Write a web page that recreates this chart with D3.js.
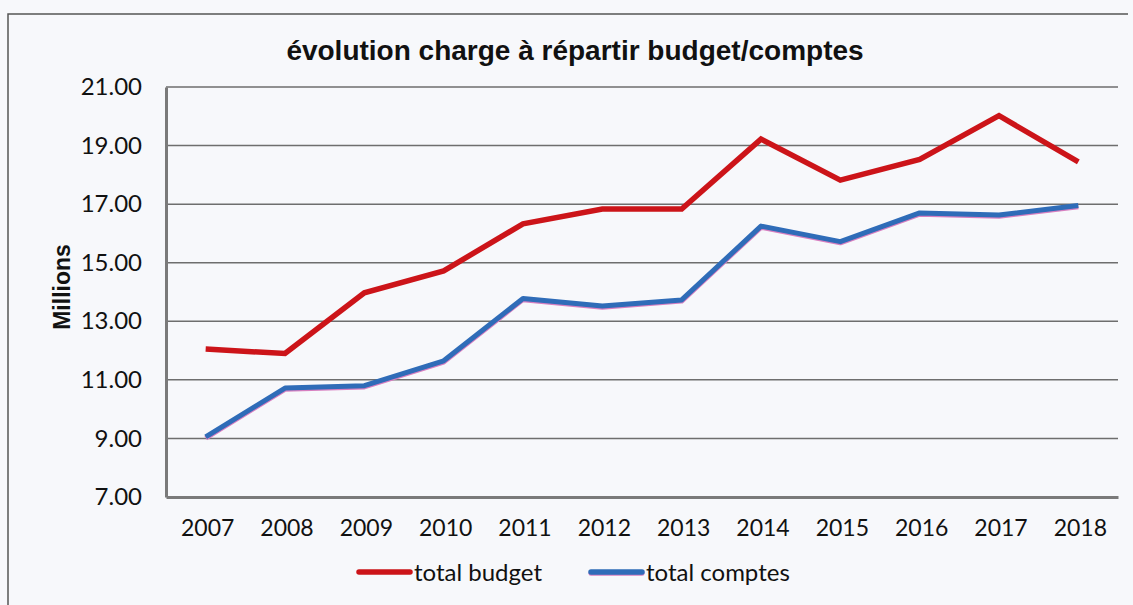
<!DOCTYPE html>
<html>
<head>
<meta charset="utf-8">
<script src="https://cdn.jsdelivr.net/npm/d3@7"></script>
<style>
  body { margin: 0; background: #f7f8fb; }
  svg { display: block; }
</style>
</head>
<body>
<svg id="chart" width="1133" height="605"></svg>
<script>
var years = ['2007','2008','2009','2010','2011','2012','2013','2014','2015','2016','2017','2018'];
var totalBudget = [12.05, 11.9, 13.97, 14.72, 16.33, 16.83, 16.83, 19.22, 17.82, 18.53, 20.02, 18.44];
var totalComptes = [9.05, 10.72, 10.8, 11.65, 13.78, 13.52, 13.73, 16.25, 15.72, 16.7, 16.63, 16.95];
var yTicks = [7, 9, 11, 13, 15, 17, 19, 21];

var svg = d3.select('#chart');

// plot box (window.top is reserved, so use plot* names)
var plotLeft = 166, plotRight = 1118, plotTop = 87, plotBottom = 497;

// frame of the scanned chart
svg.append('path')
  .attr('d', 'M8,605 L8,14 L1128,14')
  .attr('fill', 'none')
  .attr('stroke', '#555')
  .attr('stroke-width', 1.5);

var x = d3.scaleBand().domain(years).range([plotLeft, plotRight]);
var y = d3.scaleLinear().domain([7, 21]).range([plotBottom, plotTop]);

// gridlines
svg.append('g')
  .selectAll('line')
  .data(yTicks.slice(1))
  .enter().append('line')
    .attr('x1', plotLeft).attr('x2', plotRight)
    .attr('y1', function(d) { return y(d); })
    .attr('y2', function(d) { return y(d); })
    .attr('stroke', '#6e6e6e')
    .attr('stroke-width', 1.5);

// y axis
var yAxis = svg.append('g')
  .attr('transform', 'translate(' + plotLeft + ',0)')
  .call(d3.axisLeft(y).tickValues(yTicks).tickFormat(d3.format('.2f')).tickSize(0).tickPadding(24));
yAxis.select('.domain').attr('stroke', '#7a7a7a').attr('stroke-width', 3);
yAxis.selectAll('text')
  .attr('font-family', 'Lato, "Open Sans", sans-serif')
  .attr('font-size', 24)
  .attr('fill', '#111');

// x axis
var xAxis = svg.append('g')
  .attr('transform', 'translate(0,' + plotBottom + ')')
  .call(d3.axisBottom(x).tickSize(0).tickPadding(23));
xAxis.select('.domain').attr('stroke', '#7a7a7a').attr('stroke-width', 3);
xAxis.selectAll('text')
  .attr('font-family', 'Lato, "Open Sans", sans-serif')
  .attr('font-size', 23)
  .attr('dx', 2)
  .attr('fill', '#111');

var line = function(vals) {
  return d3.line()
    .x(function(d, i) { return x(years[i]) + x.bandwidth() / 2; })
    .y(function(d) { return y(d); })(vals);
};

// total comptes: pink edge under blue
svg.append('path')
  .attr('d', line(totalComptes))
  .attr('transform', 'translate(0,1.2)')
  .attr('fill', 'none')
  .attr('stroke', '#d77fc0')
  .attr('stroke-width', 5)
  .attr('stroke-linejoin', 'round');
svg.append('path')
  .attr('d', line(totalComptes))
  .attr('fill', 'none')
  .attr('stroke', '#2f6cb8')
  .attr('stroke-width', 5)
  .attr('stroke-linejoin', 'round');

svg.append('path')
  .attr('d', line(totalBudget))
  .attr('fill', 'none')
  .attr('stroke', '#cc1419')
  .attr('stroke-width', 5.5)
  .attr('stroke-linejoin', 'miter');

// title
svg.append('text')
  .attr('x', 575).attr('y', 60)
  .attr('text-anchor', 'middle')
  .attr('font-family', '"Liberation Sans", Arial, sans-serif')
  .attr('font-weight', 'bold')
  .attr('font-size', 28)
  .attr('fill', '#111')
  .text('évolution charge à répartir budget/comptes');

// y title
svg.append('text')
  .attr('transform', 'translate(70,287) rotate(-90)')
  .attr('text-anchor', 'middle')
  .attr('font-family', '"Liberation Sans", Arial, sans-serif')
  .attr('font-weight', 'bold')
  .attr('font-size', 23)
  .attr('fill', '#111')
  .text('Millions');

// legend
var legend = [
  {name: 'total budget', color: '#cc1419', x: 357},
  {name: 'total comptes', color: '#2f6cb8', x: 589}
];
var lg = svg.append('g').selectAll('g').data(legend).enter().append('g')
  .attr('transform', function(d) { return 'translate(' + d.x + ',572)'; });
lg.filter(function(d, i) { return i == 1; }).append('line')
  .attr('x1', 2).attr('x2', 53).attr('y1', 1.2).attr('y2', 1.2)
  .attr('stroke', '#d77fc0').attr('stroke-width', 5).attr('stroke-linecap', 'round');
lg.append('line')
  .attr('x1', 2).attr('x2', 53).attr('y1', 0).attr('y2', 0)
  .attr('stroke', function(d) { return d.color; })
  .attr('stroke-width', 5.5)
  .attr('stroke-linecap', 'round');
lg.append('text')
  .attr('x', 57).attr('y', 8.5)
  .attr('font-family', 'Lato, "Open Sans", sans-serif')
  .attr('font-size', 24)
  .attr('fill', '#111')
  .text(function(d) { return d.name; });
</script>
</body>
</html>
